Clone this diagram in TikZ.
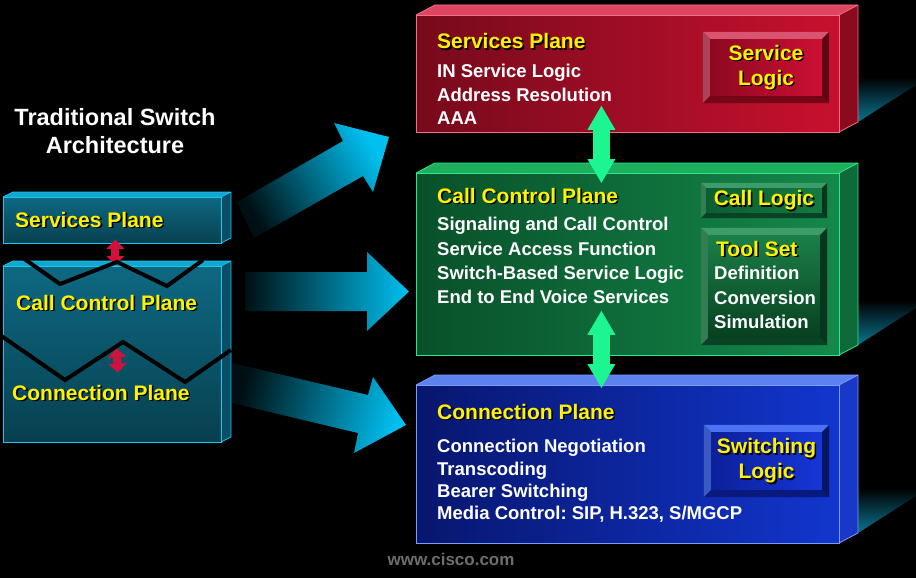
\documentclass[tikz,border=0pt]{standalone}
\usepackage{fontspec}
\setmainfont{Liberation Sans}
\usetikzlibrary{arrows.meta,positioning}
\frenchspacing

% plane colours
\definecolor{svcfaceA}{HTML}{760A1B}
\definecolor{svcfaceB}{HTML}{C8102F}
\definecolor{svctop}{HTML}{DF4560}
\definecolor{svcside}{HTML}{8C0A1E}
\definecolor{svcedge}{HTML}{F0708A}
\definecolor{callfaceA}{HTML}{09502A}
\definecolor{callfaceB}{HTML}{14884A}
\definecolor{calltop}{HTML}{1DAE5E}
\definecolor{callside}{HTML}{0E6A38}
\definecolor{calledge}{HTML}{30E68C}
\definecolor{connfaceA}{HTML}{07166E}
\definecolor{connfaceB}{HTML}{1236CE}
\definecolor{conntop}{HTML}{5C82F0}
\definecolor{connside}{HTML}{1A38C8}
\definecolor{connedge}{HTML}{7C9CF8}
\definecolor{oldfaceA}{HTML}{0E6882}
\definecolor{oldfaceB}{HTML}{07404F}
\definecolor{oldtop}{HTML}{13A6CF}
\definecolor{oldside}{HTML}{0A4E66}
\definecolor{oldedge}{HTML}{18C6F2}
% inner boxes
\definecolor{svclogicA}{HTML}{8E0820}
\definecolor{svclogicB}{HTML}{CC1034}
\definecolor{svcbevL}{HTML}{D85470}
\definecolor{svcbevD}{HTML}{760516}
\definecolor{calllogicA}{HTML}{0C5E32}
\definecolor{calllogicB}{HTML}{137A42}
\definecolor{callbevL}{HTML}{3E9C68}
\definecolor{callbevD}{HTML}{094224}
\definecolor{toolA}{HTML}{1B8048}
\definecolor{toolB}{HTML}{074020}
\definecolor{swlogicA}{HTML}{0C209A}
\definecolor{swlogicB}{HTML}{1636D8}
\definecolor{connbevL}{HTML}{4A72F2}
\definecolor{connbevD}{HTML}{0A1A7C}
% arrows and the rest
\definecolor{arrowcyan}{HTML}{00C0F0}
\definecolor{mint}{HTML}{1CF590}
\definecolor{oldred}{HTML}{D4103C}
\definecolor{floorteal}{HTML}{0B7590}
\definecolor{webgray}{HTML}{6E6E6E}

% yellow headings carry a dark drop shadow
\newcommand\shadowtxt[1]{\rlap{\kern1.6pt\raisebox{-1.6pt}[0pt][0pt]{\color{black}#1}}#1}

\begin{document}
\begin{tikzpicture}[
  x=1pt,y=1pt,
  planebox/.style={rectangle,inner sep=0pt,anchor=north west,line width=0.8pt},
  headtxt/.style={anchor=base west,inner sep=0pt,text=yellow,font=\fontsize{21}{24}\selectfont\bfseries},
  headwhite/.style={inner sep=0pt,text=white,align=center,font=\fontsize{23.5}{28}\selectfont\bfseries},
  planetext/.style={anchor=north west,inner sep=0pt,text=white,align=left,font=\fontsize{18.5}{#1}\selectfont\bfseries},
  logicface/.style={rectangle,inner sep=0pt,text=yellow,align=center,font=\fontsize{21}{25}\selectfont\bfseries},
  bigarrow/.style={bottom color=arrowcyan!8!black,top color=arrowcyan,middle color=arrowcyan!55!black,shading angle=#1},
  link/.style={{Triangle[width=28pt,length=24pt,line width=0pt]}-{Triangle[width=28pt,length=24pt,line width=0pt]},line width=17pt,draw=mint},
  oldlink/.style={{Triangle[width=18pt,length=9pt,line width=0pt]}-{Triangle[width=18pt,length=9pt,line width=0pt]},line width=8pt,draw=oldred},
  breakline/.style={line width=4pt,black}
]
\fill[black] (0,0) rectangle (916,-578);
\useasboundingbox (0,0) rectangle (916,-578);

% traditional switch
\node[headwhite] (oldhead) at (115,-131.5) {Traditional Switch\\Architecture};
\foreach \blk/\yt/\yb in {lsvc/197/243, lcore/266/442}{
  \fill[fill=oldtop] (3,-\yt) -- (13,-\yt+5) -- (231,-\yt+5) -- (221,-\yt) -- cycle;
  \fill[fill=oldside] (221,-\yt) -- (231,-\yt+5) -- (231,-\yb+5) -- (221,-\yb) -- cycle;
  \node[planebox,draw=oldedge,top color=oldfaceA,bottom color=oldfaceB,minimum width=218pt,minimum height={(\yb-\yt)*1pt}] (\blk) at (3,-\yt) {};
  \draw[draw=oldedge,line width=0.8pt] (3,-\yt) -- (13,-\yt+5) -- (231,-\yt+5) -- (231,-\yb+5) -- (221,-\yb) (221,-\yt) -- (231,-\yt+5);
}
\node[headtxt] (lsvclbl) at (15,-227) {\shadowtxt{Services Plane}};
\node[headtxt] (lcalllbl) at (16,-310) {\shadowtxt{Call Control Plane}};
\node[headtxt] (lconnlbl) at (12,-400) {\shadowtxt{Connection Plane}};
\draw[oldlink] ([xshift=3pt,yshift=4pt]lsvc.south) -- ([xshift=3pt,yshift=1pt]lcore.north);
\draw[oldlink] ([xshift=10pt,yshift=-38pt]lcalllbl.south) -- ([xshift=17pt,yshift=12pt]lconnlbl.north);
\draw[breakline] (23,-258) -- (60,-284) -- (117,-262) -- (167,-286) -- (203,-260);
\draw[breakline] (0,-335) -- (65,-380) -- (123,-342) -- (185,-382) -- (231,-350);

% migration arrows
\shade[bigarrow=-60] (237,-202) -- (343,-141) -- (334,-123) -- (389,-137) -- (373,-192) -- (363,-176) -- (254,-238) -- cycle;
\shade[bigarrow=-90] (245,-272) -- (367,-272) -- (367,-252) -- (409,-291.5) -- (367,-331) -- (367,-311) -- (245,-311) -- cycle;
\shade[bigarrow=-103.5] (232,-363) -- (368,-395) -- (373,-377) -- (406,-425) -- (354,-453) -- (358,-433) -- (232,-403) -- cycle;

% the three planes
\foreach \pl/\yt/\yb in {svc/15/132, call/173/355, conn/385/543}{
  \shade[top color=black,bottom color=floorteal] (858,-\yb+10) -- (916,-\yb+47) -- (916,-\yb+55) -- (858,-\yb+55) -- cycle;
  \fill[fill=\pl top] (416,-\yt) -- (435,-\yt+10) -- (858,-\yt+10) -- (839,-\yt) -- cycle;
  \fill[fill=\pl side] (839,-\yt) -- (858,-\yt+10) -- (858,-\yb+10) -- (839,-\yb) -- cycle;
  \node[planebox,draw=\pl edge,left color=\pl faceA,right color=\pl faceB,minimum width=423pt,minimum height={(\yb-\yt)*1pt}] (\pl box) at (416,-\yt) {};
  \draw[draw=\pl edge,line width=0.8pt] (416,-\yt) -- (435,-\yt+10) -- (858,-\yt+10) -- (858,-\yb+10) -- (839,-\yb) (839,-\yt) -- (858,-\yt+10);
}

% logic boxes
\node[logicface,minimum width=112pt,minimum height=57pt,left color=svclogicA,right color=svclogicB] (svclogic) at (766,-67.5) {\shadowtxt{Service}\\\shadowtxt{Logic}};
\node[logicface,minimum width=116pt,minimum height=25pt,left color=calllogicA,right color=calllogicB] (calllogic) at (764,-200.5) {\shadowtxt{Call Logic}};
\node[logicface,minimum width=112pt,minimum height=103pt,top color=toolA,bottom color=toolB] (toolset) at (764,-286.5) {};
\node[logicface,minimum width=111pt,minimum height=58pt,left color=swlogicA,right color=swlogicB] (swlogic) at (766.5,-461) {\shadowtxt{Switching}\\\shadowtxt{Logic}};
\foreach \b/\bw/\lt/\dk in {svclogic/7/svcbevL/svcbevD, calllogic/5/callbevL/callbevD, toolset/7/callbevL/callbevD, swlogic/7/connbevL/connbevD}{
  \fill[fill=\lt] (\b.north west) -- ++(-\bw,\bw) -- ([shift={(\bw,\bw)}]\b.north east) -- (\b.north east) -- cycle;
  \fill[fill=\lt!80!black] (\b.north west) -- ++(-\bw,\bw) -- ([shift={(-\bw,-\bw)}]\b.south west) -- (\b.south west) -- cycle;
  \fill[fill=\dk] (\b.south west) -- ++(-\bw,-\bw) -- ([shift={(\bw,-\bw)}]\b.south east) -- (\b.south east) -- cycle;
  \fill[fill=\dk!80!black] (\b.north east) -- ++(\bw,\bw) -- ([shift={(\bw,-\bw)}]\b.south east) -- (\b.south east) -- cycle;
}

% plane texts
\node[headtxt] (svctitle) at (437,-49) {\shadowtxt{Services Plane}};
\node[planetext=23.5,below=14.7pt of svctitle.south west,anchor=north west] (svctext) {IN Service Logic\\Address Resolution\\AAA};
\node[headtxt] (calltitle) at (437,-203) {\shadowtxt{Call Control Plane}};
\node[planetext=24.3,below=13.7pt of calltitle.south west,anchor=north west] (calltext) {Signaling and Call Control\\Service Access Function\\Switch-Based Service Logic\\End to End Voice Services};
\node[headtxt] (tooltitle) at (716,-256) {\shadowtxt{Tool Set}};
\node[planetext=24.5,below=9.7pt of tooltitle.south west,anchor=north west,xshift=-2pt] (toollist) {Definition\\Conversion\\Simulation};
\node[headtxt] (conntitle) at (437,-419) {\shadowtxt{Connection Plane}};
\node[planetext=22.3,below=19.7pt of conntitle.south west,anchor=north west] (conntext) {Connection Negotiation\\Transcoding\\Bearer Switching\\Media Control: SIP, H.323, S/MGCP};

% links between planes
\draw[link] ([xshift=-26.5pt,yshift=27pt]svcbox.south) -- ([xshift=-26.5pt,yshift=-10pt]callbox.north);
\draw[link] ([xshift=-26.5pt,yshift=45pt]callbox.south) -- ([xshift=-26.5pt,yshift=-3pt]connbox.north);

\node[font=\fontsize{17}{20}\selectfont\bfseries,text=webgray] (site) at (451,-559) {www.cisco.com};
\end{tikzpicture}
\end{document}
